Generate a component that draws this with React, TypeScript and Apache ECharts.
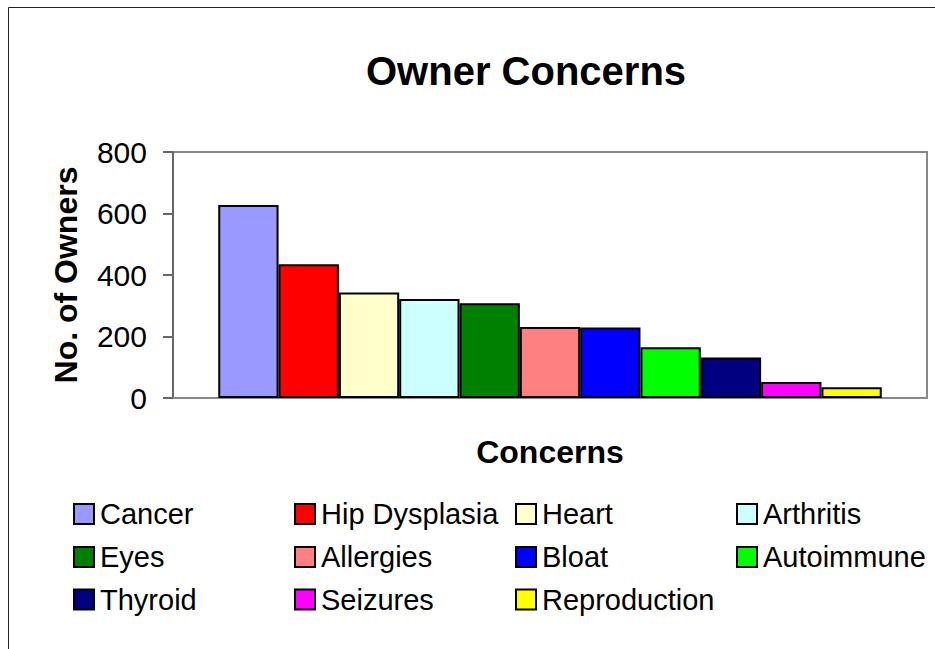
import React, { useEffect, useRef } from "react";
import * as echarts from "echarts";

const concerns = [
  "Cancer", "Hip Dysplasia", "Heart", "Arthritis", "Eyes", "Allergies",
  "Bloat", "Autoimmune", "Thyroid", "Seizures", "Reproduction",
];
const owners = [628, 435, 343, 322, 308, 231, 229, 165, 132, 52, 35];
const colors = [
  "#9999FF", "#FF0000", "#FFFFCC", "#CCFFFF", "#008000", "#FF8080",
  "#0000FF", "#00FF00", "#000080", "#FF00FF", "#FFFF00",
];
const yTicks = [0, 200, 400, 600, 800];
const category = ["Concerns"];

const FONT = 'Arial, "Liberation Sans", sans-serif';

export default function App() {
  const ref = useRef<HTMLDivElement>(null);
  useEffect(() => {
    if (!ref.current) return;
    const chart = echarts.init(ref.current, null, { renderer: "svg" });
    const legendCols = [73, 294, 515, 736];
    const legendRows = [499.5, 542.5, 585];
    const legends = concerns.map((name, i) => ({
      show: true,
      data: [name],
      left: legendCols[i % 4],
      top: legendRows[Math.floor(i / 4)],
      padding: 0,
      itemWidth: 20,
      itemHeight: 20,
      icon: "rect",
      selectedMode: false,
      textStyle: {
        fontFamily: FONT,
        fontSize: 29,
        color: "#000",
        lineHeight: 20,
        padding: [0, 0, 0, 1],
      },
    }));
    chart.setOption({
      animation: false,
      backgroundColor: "#fff",
      title: {
        text: "Owner Concerns",
        left: 366,
        top: 51,
        padding: 0,
        textStyle: { fontFamily: FONT, fontSize: 40, fontWeight: "bold", color: "#000" },
      },
      legend: legends,
      grid: {
        left: 173,
        right: 8,
        top: 152,
        bottom: 251,
        show: true,
        borderColor: "#888",
        borderWidth: 2,
        containLabel: false,
      },
      xAxis: {
        type: "category",
        data: category,
        name: "Concerns",
        nameLocation: "middle",
        nameGap: 38,
        nameTextStyle: { fontFamily: FONT, fontSize: 32, fontWeight: "bold", color: "#000" },
        axisLabel: { show: false },
        axisTick: { show: false },
        axisLine: { show: true, lineStyle: { color: "#888", width: 2 } },
      },
      yAxis: {
        type: "value",
        min: yTicks[0],
        max: yTicks[yTicks.length - 1],
        interval: 200,
        name: "No. of Owners",
        nameLocation: "middle",
        nameGap: 91,
        nameRotate: 90,
        nameTextStyle: { fontFamily: FONT, fontSize: 32, fontWeight: "bold", color: "#000" },
        splitLine: { show: false },
        axisLine: { show: true, lineStyle: { color: "#666", width: 2 } },
        axisTick: { show: true, inside: false, length: 10, lineStyle: { color: "#666", width: 2 } },
        axisLabel: { fontFamily: FONT, fontSize: 30, color: "#000", margin: 26 },
      },
      graphic: [
        {
          type: "polyline",
          shape: { points: [[8.5, 649], [8.5, 7.5], [935, 7.5]] },
          style: { stroke: "#222", lineWidth: 1, fill: "none" },
          silent: true,
        },
      ],
      series: concerns.map((name, i) => ({
        name,
        type: "bar",
        data: [owners[i]],
        barGap: "0%",
        barCategoryGap: "12%",
        itemStyle: { color: colors[i], borderColor: "#000", borderWidth: 2 },
      })),
    });
    return () => chart.dispose();
  }, []);
  return (
    <div
      ref={ref}
      style={{ position: "absolute", left: 0, top: 0, width: 935, height: 649 }}
    />
  );
}
